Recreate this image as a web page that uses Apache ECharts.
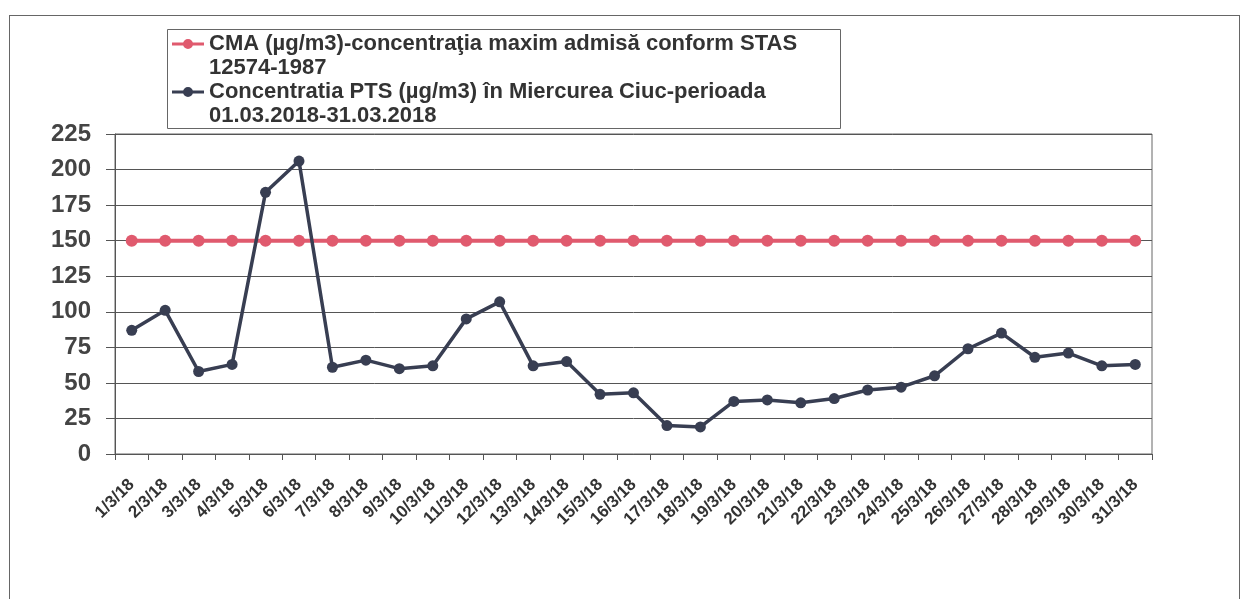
<!DOCTYPE html>
<html>
<head>
<meta charset="utf-8">
<script src="https://cdn.jsdelivr.net/npm/echarts@6/dist/echarts.min.js"></script>
<style>
  html, body { margin: 0; padding: 0; background: #fff; }
  #frame {
    position: absolute; left: 9px; top: 15px; width: 1231px; height: 600px;
    border: 1px solid #666; box-sizing: border-box;
  }
  #chart { position: absolute; left: 0; top: 0; width: 1252px; height: 599px; }
</style>
</head>
<body>
<div id="frame"></div>
<div id="chart"></div>
<script>
// zilele lunii martie 2018
const days = ['1/3/18','2/3/18','3/3/18','4/3/18','5/3/18','6/3/18','7/3/18','8/3/18','9/3/18','10/3/18',
  '11/3/18','12/3/18','13/3/18','14/3/18','15/3/18','16/3/18','17/3/18','18/3/18','19/3/18','20/3/18',
  '21/3/18','22/3/18','23/3/18','24/3/18','25/3/18','26/3/18','27/3/18','28/3/18','29/3/18','30/3/18','31/3/18']

// CMA - valoare limita
const cmaValues = [150,150,150,150,150,150,150,150,150,150,150,150,150,150,150,150,
  150,150,150,150,150,150,150,150,150,150,150,150,150,150,150]

// concentratia PTS masurata
const ptsValues = [87,101,58,63,184,206,61,66,60,62,95,107,62,65,42,43,
  20,19,37,38,36,39,45,47,55,74,85,68,71,62,63]

const yTicks = { min: 0, max: 225, interval: 25 }

const cmaName = 'CMA (µg/m3)-concentraţia maxim admisă conform STAS\n12574-1987'
const ptsName = 'Concentratia PTS (µg/m3) în Miercurea Ciuc-perioada\n01.03.2018-31.03.2018'

// simbol legenda: linie + cerc in partea de sus (textul are doua randuri)
const legendIcon = 'path://M0 0M32 36M0 4.6L32 4.6L32 7.4L0 7.4ZM21 6A5 5 0 1 1 11 6A5 5 0 1 1 21 6Z'

const chart = echarts.init(document.getElementById('chart'))

const option = {
  animation: false,
  textStyle: { fontFamily: '"Liberation Sans", Arial, sans-serif' },
  // chenarul legendei
  graphic: [{
    type: 'rect',
    left: 165, top: 27,
    shape: { width: 673, height: 99 },
    style: { fill: 'none', stroke: '#666', lineWidth: 1 },
    z: 1
  }],
  grid: {
    left: 115, right: 100, top: 134, bottom: 145,
    show: true, borderColor: '#666', borderWidth: 1
  },
  legend: {
    orient: 'vertical',
    left: 172, top: 32,
    padding: 0,
    itemGap: 0,
    icon: legendIcon,
    itemWidth: 32, itemHeight: 36,
    itemStyle: { borderWidth: 0 },
    textStyle: { fontSize: 22, fontWeight: 'bold', color: '#333', lineHeight: 24 },
    data: [cmaName, ptsName]
  },
  xAxis: {
    type: 'category',
    data: days,
    boundaryGap: true,
    axisLine: { lineStyle: { color: '#555', width: 1 } },
    axisTick: { show: true, length: 6, lineStyle: { color: '#555' } },
    axisLabel: {
      interval: 0, rotate: 45, margin: 28,
      fontSize: 17, fontWeight: 'bold', color: '#333'
    }
  },
  yAxis: {
    type: 'value',
    min: yTicks.min, max: yTicks.max, interval: yTicks.interval,
    axisLine: { show: true, lineStyle: { color: '#555', width: 1 } },
    axisTick: { show: true, inside: false, length: 9, lineStyle: { color: '#555' } },
    axisLabel: { fontSize: 24, fontWeight: 'bold', color: '#444', margin: 24 },
    splitLine: { lineStyle: { color: '#555', width: 1 } }
  },
  series: [
    {
      name: cmaName,
      type: 'line',
      data: cmaValues,
      symbol: 'circle', symbolSize: 12,
      itemStyle: { color: '#e05a6e' },
      lineStyle: { color: '#e05a6e', width: 4 }
    },
    {
      name: ptsName,
      type: 'line',
      data: ptsValues,
      symbol: 'circle', symbolSize: 11,
      itemStyle: { color: '#383e52' },
      lineStyle: { color: '#383e52', width: 3.5 }
    }
  ]
}

chart.setOption(option)
</script>
</body>
</html>
